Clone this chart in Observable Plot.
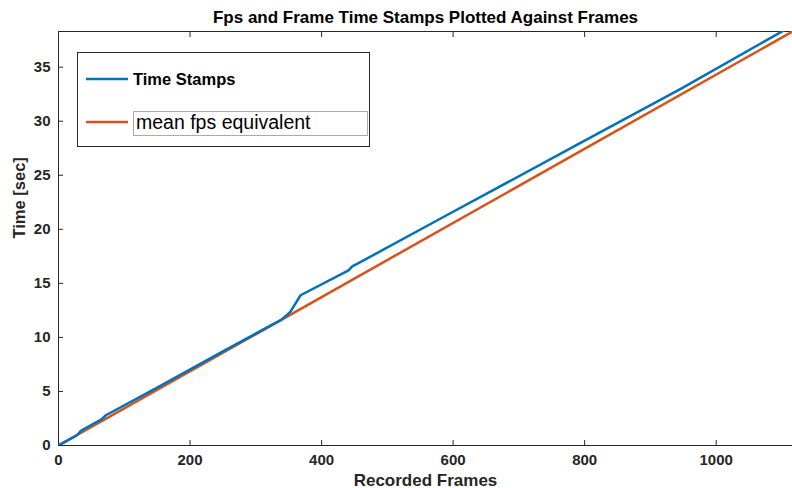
<!DOCTYPE html>
<html><head><meta charset="utf-8">
<script src="https://cdn.jsdelivr.net/npm/d3@7"></script>
<script src="https://cdn.jsdelivr.net/npm/@observablehq/plot@0.6"></script>
<style>body{margin:0;background:#fff} svg{display:block;overflow:visible}</style>
</head><body><div id="chart"></div>
<script>
// Data
const stampFrames = [0, 28, 34, 66, 72, 150, 250, 330, 338, 346, 353, 368, 441, 447, 454, 581, 800, 946, 1116];
const stampTimes  = [0, 0.95, 1.35, 2.45, 2.8, 5.35, 8.7, 11.35, 11.6, 12.0, 12.4, 13.9, 16.2, 16.6, 16.8, 21.0, 28.2, 33.0, 38.85];
const meanFrames = [0, 1116];
const meanTimes  = [0, 38.3];
const xTicks = [0, 200, 400, 600, 800, 1000];
const yTicks = [0, 5, 10, 15, 20, 25, 30, 35];
const xDomain = [0, 1116];
const yDomain = [0, 38.3];
const seriesNames = ["Time Stamps", "mean fps equivalent"];
const seriesColors = ["#0072BD", "#D95319"];
const titleText = "Fps and Frame Time Stamps Plotted Against Frames";
const xLabel = "Recorded Frames";
const yLabel = "Time [sec]";

const stamps = stampFrames.map((f, i) => ({frame: f, time: stampTimes[i]}));
const mean = meanFrames.map((f, i) => ({frame: f, time: meanTimes[i]}));

const FONT = "'Liberation Sans', Arial, Helvetica, sans-serif";
const AX = "#262626";

function legendMark() {
  return (index, scales, values, dimensions) => {
    const g = d3.create("svg:g").attr("font-family", FONT).attr("text-anchor", "start");
    const L = dimensions.marginLeft, T = dimensions.marginTop;
    g.append("rect").attr("x", L + 19.5).attr("y", T + 21.5).attr("width", 292).attr("height", 94)
      .attr("fill", "#fff").attr("stroke", AX).attr("stroke-width", 1);
    // entry 1
    g.append("line").attr("x1", L + 28).attr("x2", L + 70).attr("y1", T + 48).attr("y2", T + 48)
      .attr("stroke", seriesColors[0]).attr("stroke-width", 2.5);
    g.append("text").attr("x", L + 75).attr("y", T + 54).attr("font-size", 16.5).attr("font-weight", "bold")
      .attr("text-anchor", "start").attr("fill", "#000").text(seriesNames[0]);
    // entry 2
    g.append("line").attr("x1", L + 28).attr("x2", L + 70).attr("y1", T + 91).attr("y2", T + 91)
      .attr("stroke", seriesColors[1]).attr("stroke-width", 2.5);
    g.append("rect").attr("x", L + 75.5).attr("y", T + 80.5).attr("width", 234).attr("height", 24)
      .attr("fill", "none").attr("stroke", "#aaa").attr("stroke-width", 1);
    g.append("text").attr("x", L + 78).attr("y", T + 97.5).attr("font-size", 19.5)
      .attr("text-anchor", "start").attr("fill", "#000").text(seriesNames[1]);
    return g.node();
  };
}

const fmt = d3.format("d");

const chart = Plot.plot({
  width: 792,
  height: 488,
  marginLeft: 58,
  marginRight: 0,
  marginTop: 31,
  marginBottom: 43,
  style: {fontFamily: FONT, background: "#fff", overflow: "visible"},
  x: {domain: xDomain, range: [58, 792], axis: null},
  y: {domain: yDomain, axis: null},
  marks: [
    // box lines
    Plot.ruleX([xDomain[0]], {stroke: AX, strokeWidth: 1}),
    Plot.ruleY([yDomain[0]], {stroke: AX, strokeWidth: 1}),
    Plot.ruleY([yDomain[1]], {stroke: AX, strokeWidth: 1}),
    // inward ticks
    Plot.axisX(xTicks, {anchor: "bottom", tickSize: -5, text: null, label: null, stroke: AX}),
    Plot.axisX(xTicks, {anchor: "top", tickSize: -5, text: null, label: null, stroke: AX}),
    Plot.axisY(yTicks, {anchor: "left", tickSize: -5, text: null, label: null, stroke: AX}),
    // tick labels
    Plot.axisX(xTicks, {anchor: "bottom", tickSize: 0, tickPadding: 9, label: null, tickFormat: fmt, fontSize: 15, fontWeight: "bold", fill: AX}),
    Plot.axisY(yTicks, {anchor: "left", tickSize: 0, tickPadding: 8, label: null, tickFormat: fmt, fontSize: 15, fontWeight: "bold", fill: AX}),
    // lines
    Plot.line(mean, {x: "frame", y: "time", stroke: seriesColors[1], strokeWidth: 2.5, clip: true}),
    Plot.line(stamps, {x: "frame", y: "time", stroke: seriesColors[0], strokeWidth: 2.5, clip: true}),
    // titles
    Plot.text([titleText], {frameAnchor: "top", lineAnchor: "bottom", dy: -9, fontSize: 17, fontWeight: "bold", fill: "#000"}),
    Plot.text([xLabel], {frameAnchor: "bottom", lineAnchor: "bottom", dy: 40, fontSize: 17, fontWeight: "bold", fill: AX}),
    Plot.text([yLabel], {frameAnchor: "left", rotate: -90, dx: -39, fontSize: 16.5, fontWeight: "bold", fill: AX}),
    legendMark()
  ]
});
document.getElementById("chart").appendChild(chart);
</script>
</body></html>
